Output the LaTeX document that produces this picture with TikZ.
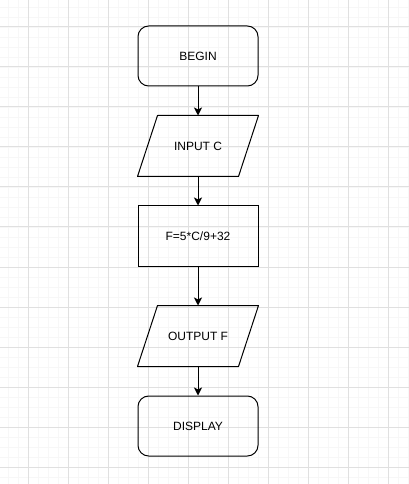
\documentclass[tikz,border=0pt]{standalone}
\usepackage{fontspec}
\setmainfont{Liberation Sans}
\usetikzlibrary{arrows.meta}
\definecolor{gridmajor}{HTML}{E0E0E0}
\definecolor{gridminor}{HTML}{F7F7F7}
\tikzset{
  base/.style={minimum width=90pt, minimum height=45pt, inner sep=0pt, font=\fontsize{9}{11}\selectfont, line width=0.75pt},
  term/.style={base, draw, rounded corners=8pt},
  proc/.style={base, draw},
  io/.style={base},
  flow/.style={line width=0.75pt, -{Stealth[length=6pt,width=6pt,inset=1.5pt]}},
  gmaj/.style={draw=gridmajor, line width=0.75pt},
  gmin/.style={draw=gridminor, line width=0.6pt}
}
\begin{document}
\begin{tikzpicture}[x=0.75pt,y=-0.75pt]
\useasboundingbox (0,0) rectangle (409,484);
\fill[white] (0,0) rectangle (409,484);
\foreach \x in {8,18,...,408} \draw[gmin] (\x,0) -- (\x,484);
\foreach \y in {7,17,...,477} \draw[gmin] (0,\y) -- (409,\y);
\foreach \x in {28,68,...,408} \draw[gmaj] (\x,0) -- (\x,484);
\foreach \y in {27,67,...,467} \draw[gmaj] (0,\y) -- (409,\y);

\node[term] (begin) at (198,56) {BEGIN};
\node[io] (input) at (198,146) {INPUT C};
\node[proc] (calc) at (198,236) {F=5*C/9+32};
\node[io] (output) at (198,336) {OUTPUT F};
\node[term] (display) at (198,426) {DISPLAY};

\foreach \n in {input,output}
  \draw[line width=0.75pt, line join=round] ([xshift=15pt]\n.north west) -- (\n.north east) -- ([xshift=-15pt]\n.south east) -- (\n.south west) -- cycle;

\draw[flow] (begin) -- (input);
\draw[flow] (input) -- (calc);
\draw[flow] (calc) -- (output);
\draw[flow] (output) -- (display);
\end{tikzpicture}
\end{document}
